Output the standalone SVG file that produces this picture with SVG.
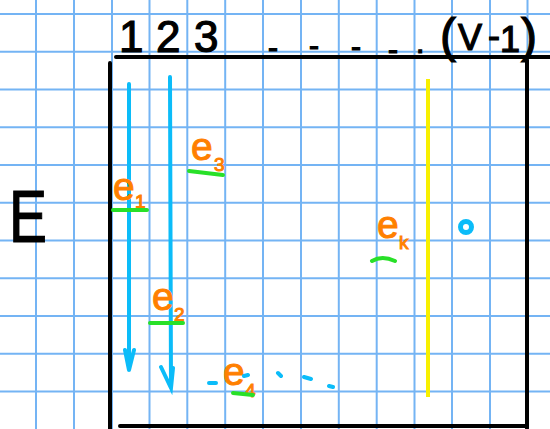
<svg xmlns="http://www.w3.org/2000/svg" width="550" height="429" viewBox="0 0 550 429">
<style>
.grid line{stroke:#74b4f4;stroke-width:2}
.ink{fill:#000;stroke:#000;stroke-width:1.2;font-family:"Liberation Sans",Arial,sans-serif}
.frame{stroke:#000;stroke-width:4;stroke-linecap:round;fill:none}
.arrow{stroke:#0bbcf9;stroke-width:4;stroke-linecap:round;fill:none}
.lbl{fill:#ff8000;stroke:#ff8000;stroke-width:1;font-family:"Liberation Sans",Arial,sans-serif;font-size:39px}
.sub{font-size:19px}
.ul{stroke:#28e028;stroke-width:4;stroke-linecap:round;fill:none}
.dot{stroke:#0bbcf9;stroke-width:4;stroke-linecap:round;fill:none}
</style>
<rect width="550" height="429" fill="#fff"/>
<g class="grid" id="grid">
<line x1="-2" y1="0" x2="-2" y2="429"/><line x1="36" y1="0" x2="36" y2="429"/><line x1="74" y1="0" x2="74" y2="429"/><line x1="112" y1="0" x2="112" y2="429"/><line x1="149.5" y1="0" x2="149.5" y2="429"/><line x1="187.3" y1="0" x2="187.3" y2="429"/><line x1="225.2" y1="0" x2="225.2" y2="429"/><line x1="263" y1="0" x2="263" y2="429"/><line x1="301" y1="0" x2="301" y2="429"/><line x1="338.8" y1="0" x2="338.8" y2="429"/><line x1="376.7" y1="0" x2="376.7" y2="429"/><line x1="414.5" y1="0" x2="414.5" y2="429"/><line x1="452" y1="0" x2="452" y2="429"/><line x1="490" y1="0" x2="490" y2="429"/><line x1="527.5" y1="0" x2="527.5" y2="429"/>
<line x1="0" y1="14" x2="550" y2="14"/><line x1="0" y1="51.7" x2="550" y2="51.7"/><line x1="0" y1="89.5" x2="550" y2="89.5"/><line x1="0" y1="127.2" x2="550" y2="127.2"/><line x1="0" y1="165" x2="550" y2="165"/><line x1="0" y1="202.7" x2="550" y2="202.7"/><line x1="0" y1="240.5" x2="550" y2="240.5"/><line x1="0" y1="278.3" x2="550" y2="278.3"/><line x1="0" y1="316" x2="550" y2="316"/><line x1="0" y1="353.8" x2="550" y2="353.8"/><line x1="0" y1="391.5" x2="550" y2="391.5"/>
</g>
<g id="matrix">
<path class="frame" d="M116 57 L550 57 M110 63 L110 429 M527 60 L527 428 M120 426 L526 426"/>
</g>
<g id="header">
<text class="ink" font-size="44" x="119" y="52">1</text>
<text class="ink" font-size="44" x="156" y="52">2</text>
<text class="ink" font-size="44" x="194" y="52">3</text>
<text class="ink" font-size="30" x="268 309 351 388 416" y="58 56 57 60 53">----.</text>
<text class="ink" font-size="48" x="440" y="52">(</text>
<text class="ink" font-size="36" x="458" y="50">V</text>
<text class="ink" font-size="36" x="488" y="48">-</text>
<text class="ink" font-size="36" x="500" y="52">1</text>
<text class="ink" font-size="48" x="521" y="52">)</text>
</g>
<g id="E">
<text class="ink" font-size="75" x="9" y="242" textLength="38" lengthAdjust="spacingAndGlyphs">E</text>
</g>
<g id="connectors">
<path class="arrow" d="M129 84 L129 370 M125 350 L129 370 L134 350"/>
<path class="arrow" d="M170 77 L171 388 M161 367 L171 388 L173 368"/>
<path stroke="#f8f000" stroke-width="4" fill="none" d="M428 79 L428 397"/>
</g>
<g id="e1">
<text class="lbl" x="113" y="200">e</text><text class="lbl sub" x="135" y="208">1</text>
<path class="ul" d="M113 210 L147 210"/>
</g>
<g id="e3">
<text class="lbl" x="191" y="160">e</text><text class="lbl sub" x="214" y="171">3</text>
<path class="ul" d="M189 171 L223 175"/>
</g>
<g id="e2">
<text class="lbl" x="152" y="310">e</text><text class="lbl sub" x="174" y="321">2</text>
<path class="ul" d="M150 323 L183 323"/>
</g>
<g id="e4">
<text class="lbl" x="223" y="385">e</text><text class="lbl sub" x="245" y="397">4</text>
<path class="ul" d="M233 393 L253 395"/>
</g>
<g id="ek">
<text class="lbl" x="377" y="238">e</text><text class="lbl sub" x="399" y="249">k</text>
<path class="ul" d="M372 261 Q382 255 395 261"/>
</g>
<g id="dots">
<path class="dot" d="M209 383 L216 383 M244 376 L248 375 M278 373 L281 376 M304 377 L311 379 M329 386 L333 387"/>
<circle cx="466" cy="227" r="5.5" fill="none" stroke="#0bbcf9" stroke-width="5"/>
</g>
</svg>
